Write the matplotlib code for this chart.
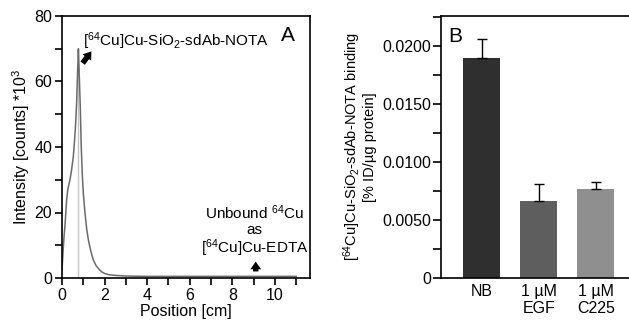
import matplotlib
matplotlib.use("Agg")
import matplotlib.pyplot as plt
from matplotlib.ticker import MultipleLocator, FixedLocator

plt.rcParams['font.family'] = ['Liberation Sans', 'DejaVu Sans']
plt.rcParams['mathtext.fontset'] = 'custom'
plt.rcParams['mathtext.rm'] = 'Liberation Sans'
plt.rcParams['mathtext.default'] = 'regular'
plt.rcParams['font.size'] = 11

# Panel A: radio-TLC trace
position_cm = [0, 0.05, 0.1, 0.14, 0.18, 0.22, 0.27, 0.32, 0.375, 0.45, 0.53, 0.59, 0.64, 0.69,
               0.73, 0.75, 0.77, 0.8, 0.83, 0.86, 0.9, 0.95, 1.0, 1.08, 1.16, 1.24, 1.35, 1.47,
               1.6, 1.75, 1.86, 2.0, 2.2, 2.5, 3.0, 4.0, 5.0, 6.0, 7.0, 8.0, 9.0, 10.0, 11.0]
intensity = [2.4, 8, 13, 16, 20, 24, 26.9, 28.5, 30, 33, 37, 42, 47, 54,
             62.6, 66, 70, 64, 58, 52, 41, 32, 26, 19.8, 15, 11.6, 8.3, 5.5,
             3.8, 2.6, 1.9, 1.4, 1.0, 0.8, 0.6, 0.5, 0.5, 0.5, 0.5, 0.5, 0.5, 0.5, 0.5]
peak_pos = 0.77
peak_val = 70

# Panel B: binding
groups = ['NB', '1 µM\nEGF', '1 µM\nC225']
binding = [0.0190, 0.0066, 0.0077]
binding_err = [0.0016, 0.0015, 0.00055]
bar_colors = ['#2f2f2f', '#5e5e5e', '#8f8f8f']

fig = plt.figure(figsize=(6.29, 3.23), dpi=100)

arrow_style = 'simple,head_width=0.7,head_length=0.5,tail_width=0.36'

axA = fig.add_axes([62/629, 45/323, 248/629, 262/323])
axA.plot([peak_pos, peak_pos], [0, peak_val], color='#c4c4c4', lw=1.0)
axA.plot(position_cm, intensity, color='#6a6a6a', lw=1.1)
axA.set_xlim(0, 11.65)
axA.set_ylim(0, 80)
axA.xaxis.set_major_locator(MultipleLocator(2))
axA.xaxis.set_minor_locator(MultipleLocator(1))
axA.yaxis.set_major_locator(MultipleLocator(20))
axA.yaxis.set_minor_locator(MultipleLocator(10))
axA.tick_params(which='both', direction='out', length=5, width=1.2, labelsize=11.5, pad=2)
for s in axA.spines.values():
    s.set_linewidth(1.2)
axA.set_xlabel('Position [cm]', fontsize=11.5, labelpad=1)
axA.set_ylabel(r'Intensity [counts] *10$^{3}$', fontsize=11.5, labelpad=2)
axA.text(1.0, 72.3, r'[$^{64}$Cu]Cu-SiO$_2$-sdAb-NOTA', fontsize=11, va='center', ha='left')
axA.text(10.6, 74, 'A', fontsize=15, va='center', ha='center')
axA.annotate('', xy=(1.38, 69.2), xytext=(0.97, 65.6),
             arrowprops=dict(arrowstyle=arrow_style,
                             color='black', lw=0, shrinkA=0, shrinkB=0))
axA.text(9.06, 19.8, r'Unbound $^{64}$Cu', fontsize=11, ha='center', va='center')
axA.text(9.06, 14.6, 'as', fontsize=11, ha='center', va='center')
axA.text(9.06, 9.2, r'[$^{64}$Cu]Cu-EDTA', fontsize=11, ha='center', va='center')
axA.annotate('', xy=(9.1, 5.0), xytext=(9.1, 2.0),
             arrowprops=dict(arrowstyle=arrow_style,
                             color='black', lw=0, shrinkA=0, shrinkB=0))

axB = fig.add_axes([441/629, 45/323, 188/629, 262/323])
x = list(range(len(groups)))
axB.bar(x, binding, width=0.65, color=bar_colors, edgecolor='none', zorder=2)
axB.errorbar(x, binding, yerr=[[0]*len(binding), binding_err], fmt='none',
             ecolor='black', elinewidth=1.0, capsize=3.5, capthick=1.0, zorder=3)
axB.set_xlim(-0.71, 2.58)
axB.set_ylim(0, 0.0226)
axB.set_xticks(x)
axB.set_xticklabels(groups, fontsize=11.5)
axB.tick_params(axis='x', length=0, pad=4)
axB.yaxis.set_major_locator(FixedLocator([0, 0.005, 0.010, 0.015, 0.020]))
axB.set_yticklabels(['0', '0.0050', '0.0100', '0.0150', '0.0200'])
axB.yaxis.set_minor_locator(MultipleLocator(0.0025))
axB.tick_params(axis='y', which='both', direction='out', length=6, width=1.2, labelsize=11.5, pad=1)
axB.spines['right'].set_visible(False)
for s in ['left', 'top', 'bottom']:
    axB.spines[s].set_linewidth(1.2)
axB.set_ylabel('[$^{64}$Cu]Cu-SiO$_2$-sdAb-NOTA binding\n[% ID/µg protein]',
               fontsize=10.5, labelpad=4, linespacing=1.0)
axB.text(-0.58, 0.0208, 'B', fontsize=15, ha='left', va='center')

fig.savefig('out.png', dpi=100)
